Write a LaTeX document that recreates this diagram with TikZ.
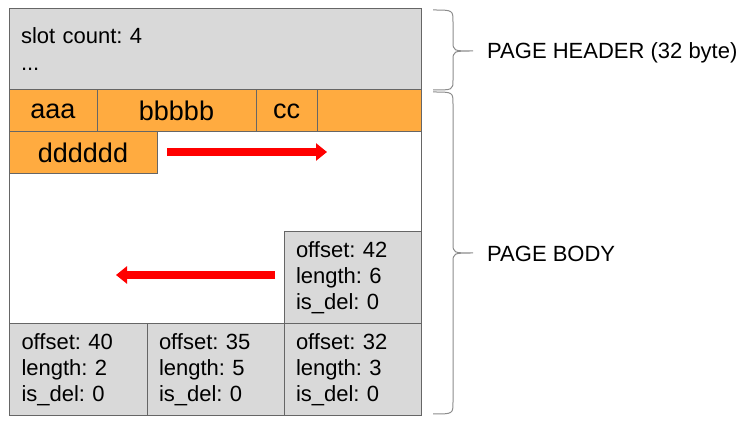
\documentclass[tikz,border=0pt]{standalone}
\usepackage{fontspec}
\setmainfont{Liberation Sans}
\usetikzlibrary{arrows.meta,positioning}
\definecolor{cellgray}{HTML}{D9D9D9}
\definecolor{recorange}{HTML}{FFAB40}
\definecolor{frameline}{HTML}{666666}
\definecolor{braceline}{HTML}{8C8C8C}
\frenchspacing
\tikzset{
    pagecell/.style={rectangle,draw=frameline,line width=1pt,inner sep=0pt,outer sep=0pt,anchor=north west},
    headbox/.style={pagecell,fill=cellgray,minimum width=412pt,minimum height=81pt,text width=388pt,align=left,font=\fontsize{22}{27}\selectfont},
    reccell/.style={pagecell,fill=recorange,minimum height=42pt,font=\fontsize{27}{30}\selectfont},
    slotbox/.style={pagecell,fill=cellgray,minimum height=92pt,text width=113pt,align=left,font=\fontsize{22}{26}\selectfont},
    growline/.style={-{Triangle[length=11pt,width=17pt]},line width=8pt,red},
    pagebrace/.style={draw=braceline,line width=1pt},
    bracelabel/.style={anchor=base west,inner sep=0pt,font=\fontsize{22}{26}\selectfont}
}
\begin{document}
\begin{tikzpicture}[x=1pt,y=-1pt]
    \useasboundingbox (0,0) rectangle (745,430);
    \node[headbox] (header) at (9,9) {slot count: 4\\...};
    % records grow from the header downwards
    \node[reccell,minimum width=88pt] (aaa) at (header.south west) {aaa};
    \node[reccell,minimum width=159pt,right=0pt of aaa] (bbb) {bbbbb};
    \node[reccell,minimum width=61pt,right=0pt of bbb] (ccc) {cc};
    \node[reccell,minimum width=104pt,right=0pt of ccc] (rest) {};
    \node[reccell,minimum width=148pt,below right=0pt and 0pt of aaa.south west] (ddd) {dddddd};
    % slots grow from the bottom upwards
    \node[slotbox,minimum width=138pt] (slot40) at (9,324) {offset: 40\\length: 2\\is\_del: 0};
    \node[slotbox,minimum width=137pt,right=0pt of slot40] (slot35) {offset: 35\\length: 5\\is\_del: 0};
    \node[slotbox,minimum width=137pt,right=0pt of slot35] (slot32) {offset: 32\\length: 3\\is\_del: 0};
    \node[slotbox,minimum width=137pt,above=0pt of slot32] (slot42) {offset: 42\\length: 6\\is\_del: 0};
    \draw[frameline,line width=1pt] (9,9) rectangle (421,416);
    \draw[growline] ([xshift=10pt,yshift=1pt]ddd.east) -- ([xshift=170pt,yshift=1pt]ddd.east);
    \draw[growline] ([xshift=-9pt,yshift=3pt]slot42.west) -- ([xshift=-168pt,yshift=3pt]slot42.west);
    % braces
    \draw[pagebrace] (433,10) .. controls (453,10) .. (453,22) -- (453,41) .. controls (453,51) .. (473,51)
        .. controls (453,51) .. (453,61) -- (453,80) .. controls (453,90) .. (433,90);
    \draw[pagebrace] (433,92) .. controls (453,92) .. (453,104) -- (453,243) .. controls (453,253) .. (473,253)
        .. controls (453,253) .. (453,263) -- (453,402) .. controls (453,414) .. (433,414);
    \node[bracelabel] (hdrlabel) at (487,59) {PAGE HEADER (32 byte)};
    \node[bracelabel] (bodylabel) at (487,262) {PAGE BODY};
\end{tikzpicture}
\end{document}
